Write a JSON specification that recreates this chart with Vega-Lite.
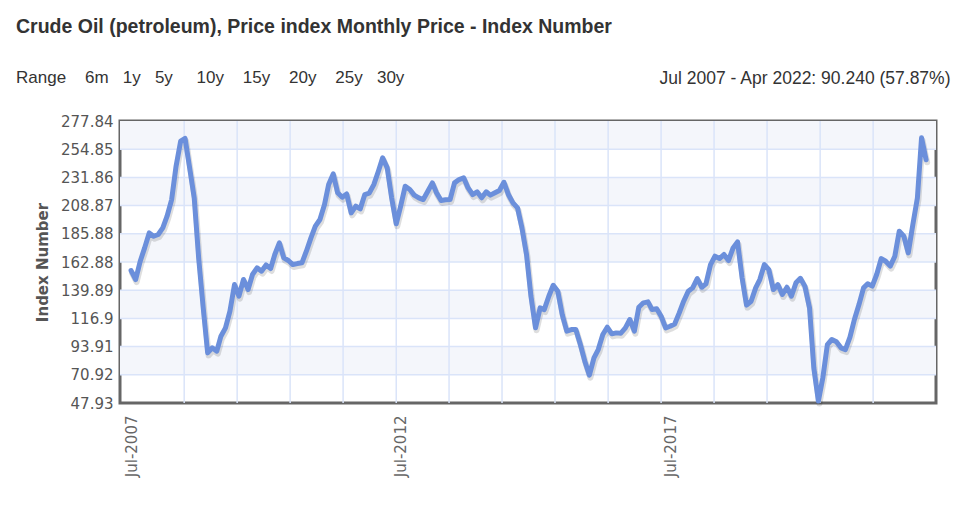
{
  "$schema": "https://vega.github.io/schema/vega-lite/v6.json",
  "width": 816,
  "height": 282,
  "autosize": {"type": "none"},
  "padding": {"left": 120, "top": 121, "right": 33, "bottom": 109},
  "background": "white",
  "title": {
    "text": "Crude Oil (petroleum), Price index Monthly Price - Index Number",
    "subtitle": "Range\u00a0\u00a0\u00a0\u00a06m\u00a0\u00a0\u00a01y\u00a0\u00a0\u00a05y\u00a0\u00a0\u00a0\u00a0\u00a010y\u00a0\u00a0\u00a0\u00a015y\u00a0\u00a0\u00a0\u00a020y\u00a0\u00a0\u00a0\u00a025y\u00a0\u00a0\u00a030y",
    "anchor": "start",
    "frame": "group",
    "dx": -104,
    "dy": 22,
    "font": "Liberation Sans",
    "fontSize": 19.5,
    "fontWeight": "bold",
    "color": "#333333",
    "subtitleFont": "Liberation Sans",
    "subtitleFontSize": 17,
    "subtitleColor": "#333333",
    "subtitlePadding": 33
  },
  "config": {
    "view": {"stroke": "#666666", "strokeWidth": 3}
  },
  "datasets": {
    "bands": [
      {"lo": 254.85, "hi": 277.84},
      {"lo": 208.87, "hi": 231.86},
      {"lo": 162.88, "hi": 185.88},
      {"lo": 116.9, "hi": 139.89},
      {"lo": 70.92, "hi": 93.91}
    ],
    "hgrid": [
      {"v": 70.92}, {"v": 93.91}, {"v": 116.9}, {"v": 139.89}, {"v": 162.88},
      {"v": 185.88}, {"v": 208.87}, {"v": 231.86}, {"v": 254.85}
    ],
    "vgrid": [
      {"d": "2008-06-25"}, {"d": "2009-06-19"}, {"d": "2010-06-13"}, {"d": "2011-06-07"},
      {"d": "2012-06-01"}, {"d": "2013-05-25"}, {"d": "2014-05-19"}, {"d": "2015-05-13"},
      {"d": "2016-05-07"}, {"d": "2017-05-01"}, {"d": "2018-04-25"}, {"d": "2019-04-19"},
      {"d": "2020-04-13"}, {"d": "2021-04-07"}
    ],
    "oil": [
      {"d": "2007-07-01", "v": 155.9}, {"d": "2007-08-01", "v": 148.6}, {"d": "2007-09-01", "v": 163.5},
      {"d": "2007-10-01", "v": 174.4}, {"d": "2007-11-01", "v": 186.6}, {"d": "2007-12-01", "v": 183.9},
      {"d": "2008-01-01", "v": 185.3}, {"d": "2008-02-01", "v": 190.7}, {"d": "2008-03-01", "v": 200.2},
      {"d": "2008-04-01", "v": 213.8}, {"d": "2008-05-01", "v": 241.0}, {"d": "2008-06-01", "v": 261.4},
      {"d": "2008-07-01", "v": 263.6}, {"d": "2008-08-01", "v": 239.6}, {"d": "2008-09-01", "v": 215.2},
      {"d": "2008-10-01", "v": 166.3}, {"d": "2008-11-01", "v": 125.5}, {"d": "2008-12-01", "v": 88.8},
      {"d": "2009-01-01", "v": 92.9}, {"d": "2009-02-01", "v": 90.2}, {"d": "2009-03-01", "v": 102.4},
      {"d": "2009-04-01", "v": 109.2}, {"d": "2009-05-01", "v": 122.8}, {"d": "2009-06-01", "v": 144.5},
      {"d": "2009-07-01", "v": 135.0}, {"d": "2009-08-01", "v": 148.6}, {"d": "2009-09-01", "v": 140.4},
      {"d": "2009-10-01", "v": 152.7}, {"d": "2009-11-01", "v": 158.1}, {"d": "2009-12-01", "v": 155.4},
      {"d": "2010-01-01", "v": 160.5}, {"d": "2010-02-01", "v": 157.6}, {"d": "2010-03-01", "v": 169.0},
      {"d": "2010-04-01", "v": 178.5}, {"d": "2010-05-01", "v": 166.3}, {"d": "2010-06-01", "v": 164.1},
      {"d": "2010-07-01", "v": 160.8}, {"d": "2010-08-01", "v": 161.6}, {"d": "2010-09-01", "v": 162.2},
      {"d": "2010-10-01", "v": 171.7}, {"d": "2010-11-01", "v": 182.6}, {"d": "2010-12-01", "v": 192.1},
      {"d": "2011-01-01", "v": 197.5}, {"d": "2011-02-01", "v": 209.7}, {"d": "2011-03-01", "v": 226.0},
      {"d": "2011-04-01", "v": 234.7}, {"d": "2011-05-01", "v": 219.3}, {"d": "2011-06-01", "v": 215.7},
      {"d": "2011-07-01", "v": 218.4}, {"d": "2011-08-01", "v": 202.9}, {"d": "2011-09-01", "v": 208.4},
      {"d": "2011-10-01", "v": 206.2}, {"d": "2011-11-01", "v": 217.9}, {"d": "2011-12-01", "v": 219.0},
      {"d": "2012-01-01", "v": 226.0}, {"d": "2012-02-01", "v": 236.9}, {"d": "2012-03-01", "v": 247.8},
      {"d": "2012-04-01", "v": 239.6}, {"d": "2012-05-01", "v": 215.2}, {"d": "2012-06-01", "v": 194.0},
      {"d": "2012-07-01", "v": 208.4}, {"d": "2012-08-01", "v": 224.7}, {"d": "2012-09-01", "v": 222.0},
      {"d": "2012-10-01", "v": 217.4}, {"d": "2012-11-01", "v": 215.2}, {"d": "2012-12-01", "v": 213.8},
      {"d": "2013-01-01", "v": 220.6}, {"d": "2013-02-01", "v": 227.4}, {"d": "2013-03-01", "v": 219.3},
      {"d": "2013-04-01", "v": 213.0}, {"d": "2013-05-01", "v": 213.6}, {"d": "2013-06-01", "v": 213.8},
      {"d": "2013-07-01", "v": 227.4}, {"d": "2013-08-01", "v": 230.1}, {"d": "2013-09-01", "v": 231.5},
      {"d": "2013-10-01", "v": 223.3}, {"d": "2013-11-01", "v": 217.9}, {"d": "2013-12-01", "v": 220.1},
      {"d": "2014-01-01", "v": 215.2}, {"d": "2014-02-01", "v": 220.1}, {"d": "2014-03-01", "v": 217.4},
      {"d": "2014-04-01", "v": 219.3}, {"d": "2014-05-01", "v": 221.2}, {"d": "2014-06-01", "v": 227.9},
      {"d": "2014-07-01", "v": 217.9}, {"d": "2014-08-01", "v": 211.1}, {"d": "2014-09-01", "v": 207.0},
      {"d": "2014-10-01", "v": 190.7}, {"d": "2014-11-01", "v": 169.0}, {"d": "2014-12-01", "v": 135.0},
      {"d": "2015-01-01", "v": 109.2}, {"d": "2015-02-01", "v": 125.5}, {"d": "2015-03-01", "v": 124.1},
      {"d": "2015-04-01", "v": 135.0}, {"d": "2015-05-01", "v": 143.9}, {"d": "2015-06-01", "v": 139.0},
      {"d": "2015-07-01", "v": 120.0}, {"d": "2015-08-01", "v": 106.5}, {"d": "2015-09-01", "v": 107.8},
      {"d": "2015-10-01", "v": 107.8}, {"d": "2015-11-01", "v": 95.6}, {"d": "2015-12-01", "v": 82.0},
      {"d": "2016-01-01", "v": 70.6}, {"d": "2016-02-01", "v": 84.7}, {"d": "2016-03-01", "v": 91.5},
      {"d": "2016-04-01", "v": 103.8}, {"d": "2016-05-01", "v": 109.7}, {"d": "2016-06-01", "v": 104.3},
      {"d": "2016-07-01", "v": 105.1}, {"d": "2016-08-01", "v": 104.8}, {"d": "2016-09-01", "v": 109.2},
      {"d": "2016-10-01", "v": 116.0}, {"d": "2016-11-01", "v": 106.5}, {"d": "2016-12-01", "v": 126.0},
      {"d": "2017-01-01", "v": 129.6}, {"d": "2017-02-01", "v": 130.4}, {"d": "2017-03-01", "v": 124.1},
      {"d": "2017-04-01", "v": 124.7}, {"d": "2017-05-01", "v": 118.7}, {"d": "2017-06-01", "v": 109.2},
      {"d": "2017-07-01", "v": 110.5}, {"d": "2017-08-01", "v": 112.4}, {"d": "2017-09-01", "v": 121.4},
      {"d": "2017-10-01", "v": 130.9}, {"d": "2017-11-01", "v": 139.0}, {"d": "2017-12-01", "v": 141.8},
      {"d": "2018-01-01", "v": 149.4}, {"d": "2018-02-01", "v": 142.3}, {"d": "2018-03-01", "v": 145.1},
      {"d": "2018-04-01", "v": 160.8}, {"d": "2018-05-01", "v": 167.6}, {"d": "2018-06-01", "v": 165.7},
      {"d": "2018-07-01", "v": 169.0}, {"d": "2018-08-01", "v": 164.1}, {"d": "2018-09-01", "v": 174.4},
      {"d": "2018-10-01", "v": 179.3}, {"d": "2018-11-01", "v": 150.0}, {"d": "2018-12-01", "v": 127.7},
      {"d": "2019-01-01", "v": 130.9}, {"d": "2019-02-01", "v": 141.8}, {"d": "2019-03-01", "v": 148.6},
      {"d": "2019-04-01", "v": 160.8}, {"d": "2019-05-01", "v": 156.7}, {"d": "2019-06-01", "v": 140.4},
      {"d": "2019-07-01", "v": 144.5}, {"d": "2019-08-01", "v": 136.4}, {"d": "2019-09-01", "v": 142.3},
      {"d": "2019-10-01", "v": 135.0}, {"d": "2019-11-01", "v": 145.9}, {"d": "2019-12-01", "v": 149.6},
      {"d": "2020-01-01", "v": 143.0}, {"d": "2020-02-01", "v": 125.5}, {"d": "2020-03-01", "v": 76.6},
      {"d": "2020-04-01", "v": 49.5}, {"d": "2020-05-01", "v": 68.4}, {"d": "2020-06-01", "v": 95.6},
      {"d": "2020-07-01", "v": 99.7}, {"d": "2020-08-01", "v": 97.8}, {"d": "2020-09-01", "v": 92.9},
      {"d": "2020-10-01", "v": 91.5}, {"d": "2020-11-01", "v": 101.6}, {"d": "2020-12-01", "v": 116.0},
      {"d": "2021-01-01", "v": 128.2}, {"d": "2021-02-01", "v": 141.8}, {"d": "2021-03-01", "v": 145.1},
      {"d": "2021-04-01", "v": 143.2}, {"d": "2021-05-01", "v": 152.7}, {"d": "2021-06-01", "v": 165.7},
      {"d": "2021-07-01", "v": 163.5}, {"d": "2021-08-01", "v": 159.5}, {"d": "2021-09-01", "v": 167.6},
      {"d": "2021-10-01", "v": 188.0}, {"d": "2021-11-01", "v": 183.9}, {"d": "2021-12-01", "v": 170.3},
      {"d": "2022-01-01", "v": 193.4}, {"d": "2022-02-01", "v": 215.2}, {"d": "2022-03-01", "v": 264.1},
      {"d": "2022-04-01", "v": 246.2}
    ]
  },
  "resolve": {"axis": {"x": "independent", "y": "independent"}},
  "layer": [
    {
      "data": {"name": "bands"},
      "mark": {"type": "rect", "fill": "#f4f6fb"},
      "encoding": {
        "y": {
          "field": "lo", "type": "quantitative",
          "scale": {"domain": [47.93, 277.84], "nice": false, "zero": false},
          "axis": {
            "orient": "left",
            "values": [47.93, 70.92, 93.91, 116.9, 139.89, 162.88, 185.88, 208.87, 231.86, 254.85, 277.84],
            "format": ".2~f",
            "title": "Index Number", "titleFont": "DejaVu Sans", "titleFontSize": 15, "titleFontWeight": "bold", "titleColor": "#555555", "titlePadding": 10,
            "labelFont": "DejaVu Sans", "labelFontSize": 15, "labelColor": "#555555", "labelPadding": 7,
            "ticks": false, "domain": false, "grid": false
          }
        },
        "y2": {"field": "hi"}
      }
    },
    {
      "data": {"name": "hgrid"},
      "mark": {"type": "rule", "color": "#dae4f9", "strokeWidth": 1.5},
      "encoding": {
        "y": {"field": "v", "type": "quantitative", "axis": null}
      }
    },
    {
      "data": {"name": "vgrid"},
      "mark": {"type": "rule", "color": "#dae4f9", "strokeWidth": 1.5},
      "encoding": {
        "x": {"field": "d", "type": "temporal", "axis": null}
      }
    },
    {
      "data": {"name": "oil"},
      "mark": {"type": "line", "color": "#000000", "opacity": 0.13, "strokeWidth": 6, "strokeJoin": "round", "strokeCap": "round", "xOffset": 1, "yOffset": 2.5},
      "encoding": {
        "x": {
          "field": "d", "type": "temporal",
          "axis": {
            "orient": "top", "labels": false, "ticks": false, "domain": false, "grid": false,
            "title": "Jul 2007 - Apr 2022: 90.240 (57.87%)",
            "titleFont": "Liberation Sans", "titleFontSize": 17.5, "titleFontWeight": "normal", "titleColor": "#333333",
            "titleAlign": "right", "titleAnchor": "end", "titleX": 830, "titleY": -43, "titleBaseline": "middle"
          }
        },
        "y": {"field": "v", "type": "quantitative", "axis": null}
      }
    },
    {
      "data": {"name": "oil"},
      "mark": {"type": "line", "color": "#6b8fdb", "strokeWidth": 5, "strokeJoin": "round", "strokeCap": "round"},
      "encoding": {
        "x": {
          "field": "d", "type": "temporal",
          "scale": {"domain": [{"year": 2007, "month": "apr", "date": 17}, {"year": 2022, "month": "jun", "date": 7}]},
          "axis": {
            "orient": "bottom",
            "values": [{"year": 2007, "month": "jul", "date": 1}, {"year": 2012, "month": "jul", "date": 1}, {"year": 2017, "month": "jul", "date": 1}],
            "format": "%b-%Y", "labelAngle": 270, "labelFlush": false,
            "labelFont": "DejaVu Sans", "labelFontSize": 15, "labelColor": "#666666", "labelPadding": 12,
            "ticks": false, "domain": false, "grid": false, "title": null
          }
        },
        "y": {"field": "v", "type": "quantitative", "axis": null}
      }
    }
  ]
}
